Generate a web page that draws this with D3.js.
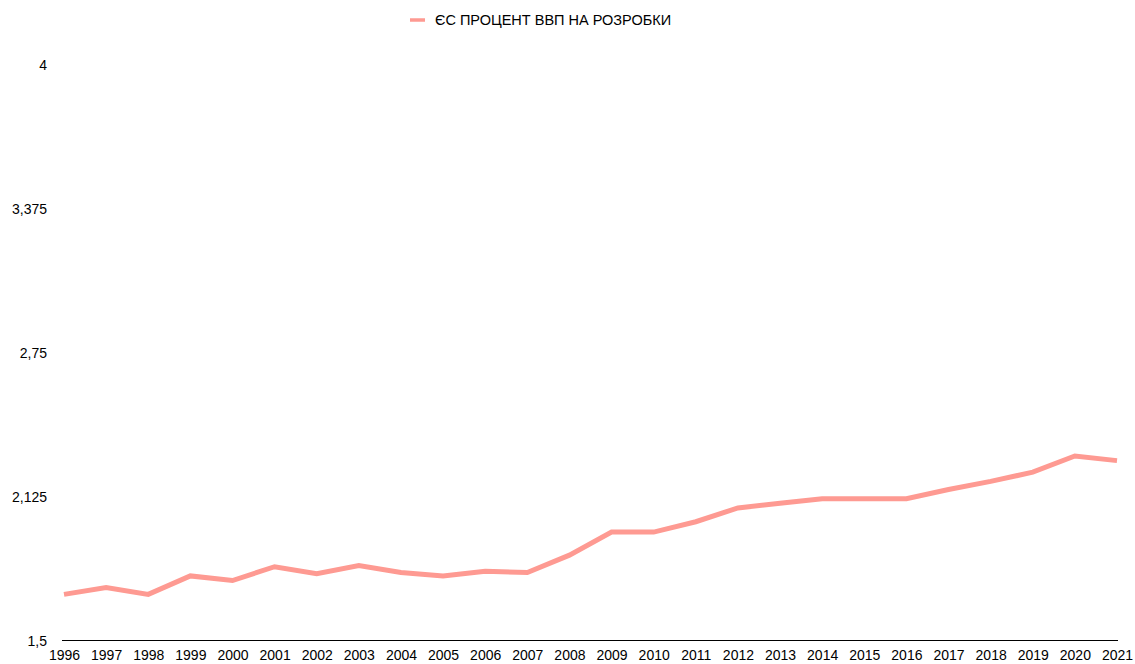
<!DOCTYPE html>
<html><head><meta charset="utf-8">
<script src="https://cdn.jsdelivr.net/npm/d3@7"></script>
<style>body{margin:0;background:#fff;} text{font-family:"Liberation Sans",Arial,Helvetica,sans-serif;}</style>
</head><body><svg id="c" width="1135" height="664"></svg>
<script>
const years = [1996,1997,1998,1999,2000,2001,2002,2003,2004,2005,2006,2007,2008,2009,2010,2011,2012,2013,2014,2015,2016,2017,2018,2019,2020,2021];
const values = [1.70,1.73,1.70,1.78,1.76,1.82,1.79,1.825,1.795,1.78,1.80,1.795,1.87,1.97,1.97,2.015,2.075,2.095,2.115,2.115,2.115,2.155,2.19,2.23,2.30,2.28];
const yTicks = [1.5,2.125,2.75,3.375,4];
const seriesName = "ЄС ПРОЦЕНТ ВВП НА РОЗРОБКИ";
const color = "#fe9a92";

const svg = d3.select("#c");
const x = d3.scalePoint().domain(years).range([64,1117]);
const y = d3.scaleLinear().domain([1.5,4]).range([640.5,64]);
const fmt = v => String(v).replace(".", ",");

const gx = svg.append("g").attr("transform","translate(0,640.5)")
  .call(d3.axisBottom(x).tickSize(0).tickPadding(10));
gx.select(".domain").attr("d","M62,0H1118").attr("stroke","#000").attr("stroke-width",1.2);
gx.selectAll("text").attr("font-size",14).attr("fill","#000").style("font-family","'Liberation Sans',Arial,sans-serif");

const gy = svg.append("g").attr("transform","translate(47,1)")
  .call(d3.axisLeft(y).tickValues(yTicks).tickFormat(fmt).tickSize(0).tickPadding(0));
gy.select(".domain").remove();
gy.selectAll("text").attr("font-size",14).attr("fill","#000").style("font-family","'Liberation Sans',Arial,sans-serif");

svg.append("path").datum(years.map((d,i)=>[d,values[i]]))
  .attr("fill","none").attr("stroke",color).attr("stroke-width",5)
  .attr("stroke-linejoin","miter")
  .attr("d", d3.line().x(d=>x(d[0])).y(d=>y(d[1])));

const lg = svg.append("g").attr("transform","translate(410,20)");
lg.append("line").attr("x1",0).attr("x2",15).attr("y1",0).attr("y2",0).attr("stroke",color).attr("stroke-width",3.5);
lg.append("text").attr("x",25).attr("y",5).attr("font-size",14.5).attr("fill","#000").text(seriesName);
</script></body></html>
